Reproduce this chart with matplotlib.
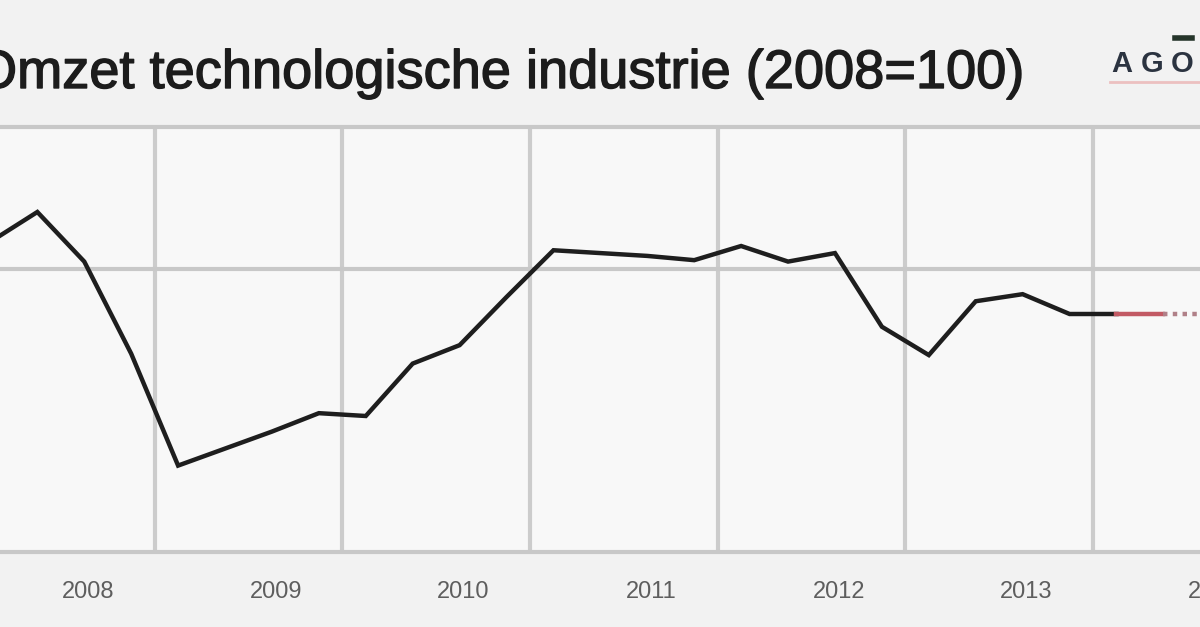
import matplotlib
matplotlib.use("Agg")
import matplotlib.pyplot as plt
import matplotlib.patheffects as pe

# Omzet technologische industrie, index 2008=100, per kwartaal
years = [2008, 2009, 2010, 2011, 2012, 2013, 2014]
quarters = ["2008Q1", "2008Q2", "2008Q3", "2008Q4",
            "2009Q1", "2009Q2", "2009Q3", "2009Q4",
            "2010Q1", "2010Q2", "2010Q3", "2010Q4",
            "2011Q1", "2011Q2", "2011Q3", "2011Q4",
            "2012Q1", "2012Q2", "2012Q3", "2012Q4",
            "2013Q1", "2013Q2", "2013Q3", "2013Q4",
            "2014Q1"]
omzet = [101.9, 104.0, 100.5, 94.0,
         86.1, 87.3, 88.5, 89.8,
         89.6, 93.3, 94.6, 98.0,
         101.3, 101.1, 100.9, 100.6,
         101.6, 100.5, 101.1, 95.9,
         93.9, 97.7, 98.2, 96.8,
         96.8]
prognose_q = ["2014Q1", "2014Q2", "2014Q3"]
prognose = [96.8, 96.8, 96.8]


def q_to_x(q):
    # kwartaal in het midden van zijn vak
    return int(q[:4]) + (int(q[-1]) - 0.5) / 4


W, H = 1200, 627
fig = plt.figure(figsize=(W / 100, H / 100), dpi=100)
fig.patch.set_facecolor("#f2f2f2")

ax = fig.add_axes([0, (H - 552) / H, 1, (552 - 127) / H])
ax.set_facecolor("#f8f8f8")

x = [q_to_x(q) for q in quarters]
ax.plot(x, omzet, color="#1e1e1e", lw=3.2, solid_joinstyle="miter", zorder=3)

px = [q_to_x(q) for q in prognose_q]
ax.plot(px[:2], prognose[:2], color="#c25a64", lw=3.2, zorder=3)
ax.plot(px[1:], prognose[1:], color="#b08088", lw=3.2, ls=(0, (1, 1.2)), zorder=3)

ax.set_xlim(2008.176, 2014.57)
ax.set_ylim(80, 110)

# raster: jaargrenzen en lijn op 100
for y in years[1:]:
    ax.axvline(y, color="#cccccc", lw=3, zorder=1)
ax.axhline(100, color="#c8c8c8", lw=3, zorder=1)

for s in ["left", "right"]:
    ax.spines[s].set_visible(False)
for s in ["top", "bottom"]:
    ax.spines[s].set_color("#c8c8c8")
    ax.spines[s].set_linewidth(3)
ax.set_xticks([])
ax.set_yticks([])

# jaartallen staan iets rechts van het midden van hun vak
for y in years:
    ax.text(y + 0.645, -0.095, str(y), transform=ax.get_xaxis_transform(),
            ha="center", va="center", fontsize=17, color="#5e5e5e",
            family="Liberation Sans", clip_on=False)

title = fig.text(-25 / W, 1 - 88 / H, "Omzet technologische industrie (2008=100)",
                 fontsize=39, color="#1c1c1c", family="Liberation Sans",
                 ha="left", va="baseline")
title.set_path_effects([pe.withStroke(linewidth=1.0, foreground="#1c1c1c")])

# logo Agoria rechtsboven
logo = "AGORIA"
for i, letter in enumerate(logo):
    fig.text((1111 + i * 30) / W, 1 - 72 / H, letter, fontsize=21,
             color="#2b3340", family="Liberation Sans", weight="bold",
             ha="left", va="baseline")
fig.add_artist(plt.Line2D([1110 / W, 1.0], [1 - 82 / H, 1 - 82 / H],
                          color="#ecc0c0", lw=2))
fig.add_artist(plt.Line2D([1175 / W, 1192 / W], [1 - 38 / H, 1 - 38 / H],
                          color="#25352a", lw=4))

fig.savefig("out.png", dpi=100, facecolor=fig.get_facecolor())
